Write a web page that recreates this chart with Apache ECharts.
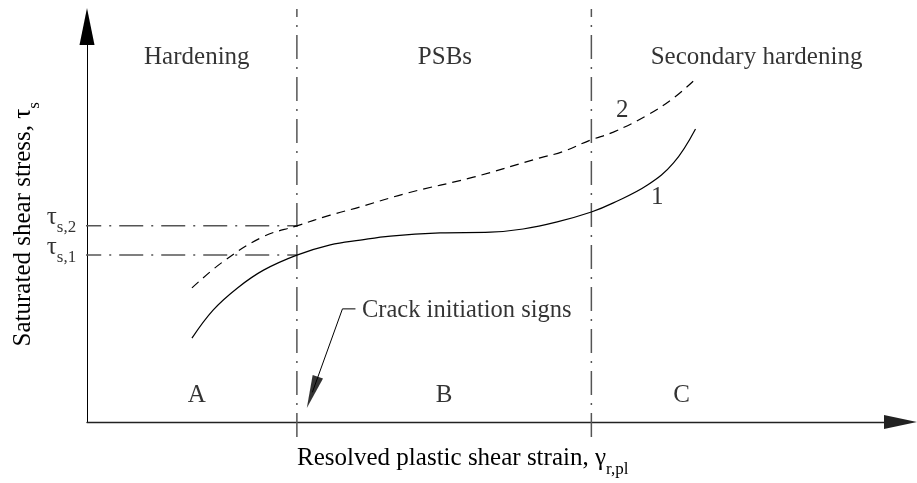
<!DOCTYPE html>
<html>
<head>
<meta charset="utf-8">
<script src="https://cdn.jsdelivr.net/npm/echarts@6/dist/echarts.min.js"></script>
<style>
  html, body { margin: 0; padding: 0; background: #fff; }
  #chart { width: 917px; height: 483px; }
</style>
</head>
<body>
<div id="chart"></div>
<script>
// schematic, both axes in arbitrary units 0..100
const strain1 = [12.9, 15.5, 18.5, 21.7, 25.8, 29.9, 33.6, 37.3, 43.4, 49.6, 53.6, 57.8, 62.0, 64.7, 68.9, 72.1, 74.8];
const stress1 = [21.2, 28.3, 33.9, 38.4, 42.2, 44.8, 46.0, 47.0, 47.8, 48.0, 48.8, 50.6, 53.1, 55.4, 59.9, 65.5, 74.1];
const strain2 = [12.9, 16.7, 21.6, 25.8, 29.9, 33.6, 39.4, 47.5, 55.7, 58.4, 61.9, 64.7, 68.9, 72.1, 74.8];
const stress2 = [33.9, 40.5, 46.8, 49.6, 52.3, 54.4, 57.9, 61.9, 66.8, 68.3, 71.3, 73.3, 77.6, 81.9, 86.7];

const zoneBounds = [25.8, 62.0];      // A|B and B|C
const boundSpan = [-3.8, 104.4];      // the dash-dot lines run past the axes
const tauLevels = [42.2, 49.6];       // tau_s,1 and tau_s,2
const tauSubs = ['s,1', 's,2'];
const tauLineStart = -1.2;

const zoneTitles = ['Hardening', 'PSBs', 'Secondary hardening'];
const zoneTitleX = [13.5, 44.0, 82.3];
const zoneTitleY = 92.3;
const zoneLetters = ['A', 'B', 'C'];
const zoneLetterX = [13.5, 43.9, 73.1];
const zoneLetterY = 6.8;
const curveNames = ['1', '2'];
const curveNameX = [70.1, 65.8];
const curveNameY = [56.9, 78.9];

const crackText = 'Crack initiation signs';
const crackTextPos = [33.8, 28.2];
const crackLeader = [[33.0, 28.6], [31.4, 28.6], [27.7, 7.5]];

const serif = 'Liberation Serif';
const rich = {
  n: { fontSize: 25, fontFamily: serif, color: '#000', lineHeight: 25, padding: [0, 0, 7, 0], verticalAlign: 'bottom' },
  s: { fontSize: 17, fontFamily: serif, color: '#000', lineHeight: 17, verticalAlign: 'bottom' }
};
const tickRich = {
  n: { fontSize: 25, fontFamily: serif, color: '#000', lineHeight: 17, padding: [0, 0, 6, 0], verticalAlign: 'bottom' },
  s: { fontSize: 17, fontFamily: serif, color: '#000', lineHeight: 12, verticalAlign: 'bottom' }
};

function pairs(xs, ys) {
  return xs.map(function (x, i) { return [x, ys[i]]; });
}

let labelPts = [];
zoneTitles.forEach(function (t, i) { labelPts.push([zoneTitleX[i], zoneTitleY, t]); });
zoneLetters.forEach(function (t, i) { labelPts.push([zoneLetterX[i], zoneLetterY, t]); });
curveNames.forEach(function (t, i) { labelPts.push([curveNameX[i], curveNameY[i], t]); });

let series = [];

zoneBounds.forEach(function (b) {
  series.push({
    type: 'line', clip: false, symbol: 'none', silent: true,
    data: [[b, boundSpan[0]], [b, boundSpan[1]]],
    lineStyle: { color: '#555', width: 1.5, type: [24, 8, 2, 8] }
  });
});
tauLevels.forEach(function (t) {
  series.push({
    type: 'line', clip: false, symbol: 'none', silent: true,
    data: [[tauLineStart, t], [zoneBounds[0], t]],
    lineStyle: { color: '#555', width: 1.5, type: [24, 8, 2, 8] }
  });
});
// tau tick labels, hung off the left end of each level line
series.push({
  type: 'scatter', silent: true, symbolSize: 0, clip: false,
  data: tauLevels.map(function (t, i) { return [tauLineStart, t, tauSubs[i]]; }),
  label: {
    show: true, position: 'left', distance: 1, offset: [0, 2],
    formatter: function (p) { return '{n|τ}{s|' + p.data[2] + '}'; },
    rich: tickRich
  }
});

series.push({
  name: '1', type: 'line', smooth: 0.4, symbol: 'none', clip: false,
  data: pairs(strain1, stress1),
  lineStyle: { color: '#000', width: 1.2 }
});
series.push({
  name: '2', type: 'line', smooth: 0.4, symbol: 'none', clip: false,
  data: pairs(strain2, stress2),
  lineStyle: { color: '#000', width: 1.2, type: [9, 6] }
});

// leader + arrow head for the crack note
series.push({
  type: 'line', symbol: 'none', clip: false, silent: true,
  data: crackLeader,
  lineStyle: { color: '#000', width: 1 }
});
series.push({
  type: 'scatter', silent: true,
  data: [crackLeader[2]],
  symbol: 'triangle', symbolSize: [11, 33], symbolRotate: 160.5,
  itemStyle: { color: '#000' }
});

series.push({
  type: 'scatter', silent: true, symbolSize: 0,
  data: labelPts,
  label: {
    show: true, position: 'inside', color: '#000',
    fontFamily: serif, fontSize: 25,
    formatter: function (p) { return p.data[2]; }
  }
});
series.push({
  type: 'scatter', silent: true, symbolSize: 0,
  data: [crackTextPos.concat([crackText])],
  label: {
    show: true, position: 'right', distance: 0, color: '#000',
    fontFamily: serif, fontSize: 24.5,
    formatter: function (p) { return p.data[2]; }
  }
});

const chart = echarts.init(document.getElementById('chart'));
chart.setOption({
  animation: false,
  backgroundColor: '#fff',
  textStyle: { fontFamily: serif },
  grid: { left: 87, right: 16.5, top: 26.5, bottom: 61 },
  xAxis: {
    type: 'value', min: 0, max: 100,
    axisLine: {
      show: true, symbol: ['none', 'triangle'], symbolSize: [14, 33],
      lineStyle: { color: '#222', width: 1.3 }
    },
    axisTick: { show: false },
    axisLabel: { show: false },
    splitLine: { show: false },
    name: '{n|Resolved plastic shear strain, γ}{s|r,pl}',
    nameLocation: 'middle', nameGap: 31,
    nameTextStyle: { padding: [0, 62, 0, 0], rich: rich }
  },
  yAxis: {
    type: 'value', min: 0, max: 100,
    axisLine: {
      show: true, symbol: ['none', 'triangle'], symbolSize: [15, 37],
      lineStyle: { color: '#000', width: 1 }
    },
    axisTick: { show: false },
    axisLabel: { show: false },
    splitLine: { show: false },
    name: '{n|Saturated shear stress, τ}{s|s}',
    nameLocation: 'middle', nameRotate: 90, nameGap: 44,
    nameTextStyle: { rich: rich }
  },
  series: series
});
</script>
</body>
</html>
